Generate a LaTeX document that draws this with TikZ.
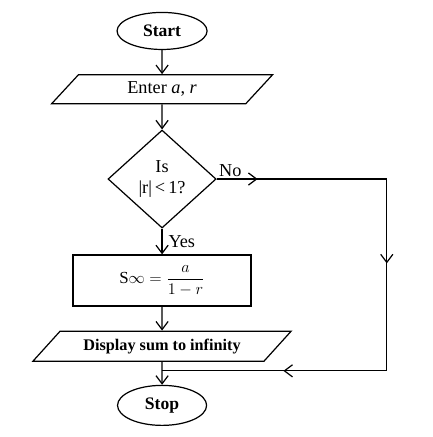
\documentclass[tikz,border=0pt]{standalone}
\usepackage{fontspec}
\setmainfont{Liberation Serif}
\usetikzlibrary{shapes.geometric,arrows.meta,decorations.markings}

\tikzset{
  flow/.style={line width=0.9pt,-{Straight Barb[length=6pt,width=9pt,line width=0.9pt]}},
  midarrow/.style={line width=0.9pt,postaction={decorate},
    decoration={markings,mark=at position #1 with {\arrow{Straight Barb[length=6pt,width=9pt,line width=0.9pt]}}}},
  termbox/.style={ellipse,draw,line width=0.9pt,font=\fontsize{13}{15}\selectfont\bfseries},
  iobox/.style={trapezium,trapezium left angle=33,trapezium right angle=147,trapezium stretches body,draw,line width=0.9pt,inner sep=1pt},
}

\begin{document}
\begin{tikzpicture}[font=\fontsize{13.5}{15}\selectfont]

\useasboundingbox (-119.9pt,22.9pt) rectangle (199.8pt,-300.4pt);

\node[termbox,minimum width=66.6pt,minimum height=27.4pt] (start) at (0,0) {Start};
\node[iobox,anchor=north,minimum width=163.5pt,minimum height=21.5pt] (enter) at ([yshift=-17.8pt]start.south) {Enter \textit{a}, \textit{r}};
\node[diamond,draw,line width=0.9pt,anchor=north,minimum width=80pt,minimum height=72.5pt,inner sep=0pt,align=center] (dec) at ([yshift=-18.5pt]enter.south) {Is\\|r|\,<\,1?};
\node[draw,line width=0.9pt,anchor=north,minimum width=131.7pt,minimum height=37.7pt,font=\fontsize{12.5}{15}\selectfont] (calc) at ([yshift=-19pt]dec.south) {S$\infty = \displaystyle\frac{a}{1-r}$};
\node[iobox,anchor=north,minimum width=191pt,minimum height=22.2pt,font=\fontsize{12}{14}\selectfont\bfseries] (disp) at ([yshift=-17.8pt]calc.south) {Display sum to infinity};
\node[termbox,anchor=north,minimum width=65.9pt,minimum height=29.6pt] (stop) at ([yshift=-17pt]disp.south) {Stop};

\coordinate (turn) at ([xshift=125.8pt]dec.east);
\coordinate (join) at ([yshift=-6.7pt]disp.south);
\coordinate (corner) at (turn |- join);

\draw[flow] (start) -- (enter);
\draw[flow] (enter) -- (dec);
\draw[flow] (dec) -- node[right,xshift=1pt] {Yes} (calc);
\draw[flow] (calc) -- (disp);
\draw[flow] (disp) -- (stop);

\draw[midarrow=0.24] (dec.east) -- node[above,pos=0.08,inner sep=1pt] {No} (turn);
\draw[midarrow=0.44] (turn) -- (corner);
\draw[midarrow=0.46] (corner) -- (join);

\end{tikzpicture}
\end{document}
